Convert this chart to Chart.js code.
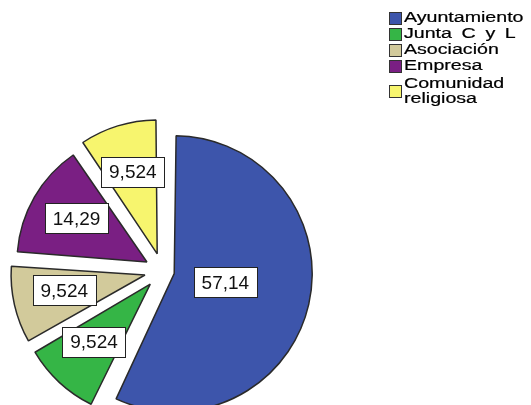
<!DOCTYPE html>
<html>
<head>
<meta charset="utf-8">
<script src="https://cdn.jsdelivr.net/npm/chart.js@4.4.0/dist/chart.umd.min.js"></script>
<style>
  html, body { margin: 0; padding: 0; background: #fff; }
  #wrap { position: relative; width: 531px; height: 405px; overflow: hidden; }
  #pie { position: absolute; left: 0; top: 0; }
  #legend { position: absolute; left: 389px; top: 10px; font-family: "Liberation Sans", Arial, sans-serif; font-size: 14px; color: #000; }
  .lg-row { position: relative; height: 16px; }
  .lg-row.two { height: 31px; margin-top: 2px; }
  .lg-box { position: absolute; left: 0; width: 11px; height: 11px; border: 1px solid #333; }
  .lg-text { position: absolute; left: 15px; top: 0; line-height: 15px; white-space: nowrap; transform: scaleX(1.4); transform-origin: left center; word-spacing: 3px; -webkit-text-stroke: 0.2px #000; }
</style>
</head>
<body>
<div id="wrap">
  <canvas id="pie" width="531" height="405"></canvas>
  <div id="legend"></div>
</div>
<script>
// ---- data ----
const categories = ['Ayuntamiento', 'Junta C y L', 'Asociación', 'Empresa', 'Comunidad religiosa'];
const percents = [57.14, 9.524, 9.524, 14.29, 9.524];
const valueLabels = ['57,14', '9,524', '9,524', '14,29', '9,524'];
const legendLines = [['Ayuntamiento'], ['Junta C y L'], ['Asociación'], ['Empresa'], ['Comunidad', 'religiosa']];

const SLICE_COLORS = ['#3d55ab', '#35b546', '#d2ca9b', '#7a1f83', '#f7f56e'];
const SLICE_OFFSETS = [48, 72, 72, 72, 72];

// value boxes placed near each slice's centroid
const valueBoxes = {
    id: 'valueBoxes',
    afterDatasetsDraw(chart) {
        const ctx = chart.ctx;
        const meta = chart.getDatasetMeta(0);
        ctx.save();
        ctx.font = '19px "Liberation Sans", Arial, sans-serif';
        ctx.textAlign = 'center';
        ctx.textBaseline = 'middle';
        meta.data.forEach((arc, i) => {
            const p = arc.getProps(['x', 'y', 'startAngle', 'endAngle', 'outerRadius']);
            const mid = (p.startAngle + p.endAngle) / 2;
            const theta = p.endAngle - p.startAngle;
            const shift = SLICE_OFFSETS[i] / 4;
            let dist = 4 * p.outerRadius * Math.sin(theta / 2) / (3 * theta);
            if (theta > Math.PI) dist *= 1.15;
            const cx = p.x + Math.cos(mid) * (shift + dist);
            const cy = p.y + Math.sin(mid) * (shift + dist) - 3;
            const txt = valueLabels[i];
            const w = Math.round(ctx.measureText(txt).width + 15);
            const h = 30;
            const x0 = Math.round(cx - w / 2) + 0.5, y0 = Math.round(cy - h / 2) + 0.5;
            ctx.fillStyle = '#fff';
            ctx.fillRect(x0, y0, w, h);
            ctx.strokeStyle = '#222';
            ctx.lineWidth = 1;
            ctx.strokeRect(x0, y0, w, h);
            ctx.fillStyle = '#111';
            ctx.fillText(txt, cx, cy + 1);
        });
        ctx.restore();
    }
};

new Chart(document.getElementById('pie'), {
    type: 'pie',
    data: {
        labels: categories,
        datasets: [{
            data: percents,
            backgroundColor: SLICE_COLORS,
            borderColor: '#2a2a2a',
            borderWidth: 1.5,
            offset: SLICE_OFFSETS,
            hoverOffset: 0,
            clip: false
        }]
    },
    options: {
        responsive: false,
        animation: false,
        radius: 126,
        layout: { padding: { left: 0, right: 206, top: 137, bottom: 0 } },
        plugins: {
            legend: { display: false },
            tooltip: { enabled: false }
        }
    },
    plugins: [valueBoxes]
});

// html legend
const legend = document.getElementById('legend');
legendLines.forEach((lines, i) => {
    const row = document.createElement('div');
    row.className = 'lg-row' + (lines.length > 1 ? ' two' : '');
    const boxTop = lines.length > 1 ? 9 : 2;
    row.innerHTML = `<div class="lg-box" style="top:${boxTop}px;background:${SLICE_COLORS[i]}"></div>` +
        `<div class="lg-text">${lines.join('<br>')}</div>`;
    legend.appendChild(row);
});
</script>
</body>
</html>
